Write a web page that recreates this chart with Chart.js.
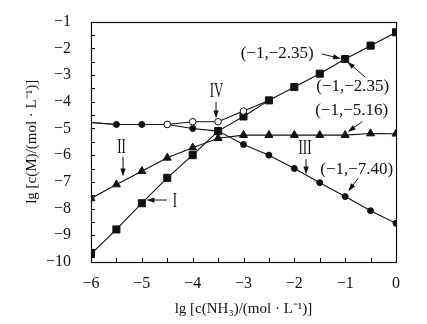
<!DOCTYPE html>
<html>
<head>
<meta charset="utf-8">
<script src="https://cdn.jsdelivr.net/npm/chart.js@4"></script>
<style>
html,body{margin:0;padding:0;background:#fff;}
#wrap{width:427px;height:324px;position:relative;}
</style>
</head>
<body>
<div id="wrap"><canvas id="c" width="427" height="324"></canvas></div>
<script>
// x values: lg c(NH3)
const xValues = [-6, -5.5, -5, -4.5, -4, -3.5, -3, -2.5, -2, -1.5, -1, -0.5, 0];
// Series I (squares)
const seriesI = [-9.7, -8.78, -7.8, -6.85, -6.0, -5.1, -4.55, -3.95, -3.45, -2.95, -2.4, -1.9, -1.4];
// Series II (triangles)
const seriesII = [-7.62, -7.1, -6.6, -6.1, -5.72, -5.37, -5.25, -5.25, -5.25, -5.25, -5.25, -5.19, -5.2];
// Series III (filled circles)
const seriesIII = [-4.78, -4.85, -4.85, -4.85, -5.0, -5.1, -5.6, -6.0, -6.5, -7.03, -7.55, -8.08, -8.55];
// Series IV (open circles; merges with I after -2.5)
const seriesIV = [-4.78, -4.85, -4.85, -4.85, -4.75, -4.75, -4.35, -3.95, null, null, null, null, null];
const ivMarker = [0, 0, 0, 1, 1, 1, 1, 0, 0, 0, 0, 0, 0];
const iiiMarker = [0, 1, 1, 1, 1, 1, 1, 1, 1, 1, 1, 1, 1];

// tick settings
const xTicks = {min: -6, max: 0, step: 1, minor: 0.5};
const yTicks = {min: -10, max: -1, step: 1, minor: 0.5};

// annotations (text, anchor in data units)
const pointLabels = [
  {text: '(−1,−2.35)', x: -1.62, y: -2.21, align: 'right', ax0: -1.46, ay0: -2.21, ax1: -1.08, ay1: -2.39},
  {text: '(−1,−2.35)', x: -1.57, y: -3.44, align: 'left', ax0: -0.61, ay0: -3.07, ax1: -0.96, ay1: -2.5},
  {text: '(−1,−5.16)', x: -1.59, y: -4.33, align: 'left', ax0: -0.66, ay0: -4.74, ax1: -0.95, ay1: -5.13},
  {text: '(−1,−7.40)', x: -1.49, y: -6.52, align: 'left', ax0: -0.74, ay0: -6.86, ax1: -0.94, ay1: -7.35}
];
const curveLabels = [
  {text: 'IV', x: -3.53, y: -3.57, ax0: -3.54, ay0: -4.0, ax1: -3.54, ay1: -4.63},
  {text: 'II', x: -5.40, y: -5.69, ax0: -5.37, ay0: -6.06, ax1: -5.37, ay1: -6.8},
  {text: 'III', x: -1.79, y: -5.72, ax0: -1.77, ay0: -6.15, ax1: -1.77, ay1: -6.72},
  {text: 'I', x: -4.35, y: -7.70, ax0: -4.51, ay0: -7.68, ax1: -4.91, ay1: -7.68}
];

const xTitle = 'lg [c(NH₃)/(mol · L⁻¹)]';
const yTitle = 'lg [c(M)/(mol · L⁻¹)]';

const ink = '#111111';
const serif = "'Liberation Serif', 'Times New Roman', serif";

function pts(arr) { return xValues.map((x, i) => ({x: x, y: arr[i]})); }

function arrow(ctx, x0, y0, x1, y1) {
  const ang = Math.atan2(y1 - y0, x1 - x0);
  const L = 8, W = 2.6;
  ctx.beginPath();
  ctx.moveTo(x0, y0);
  ctx.lineTo(x1 - Math.cos(ang) * (L - 1), y1 - Math.sin(ang) * (L - 1));
  ctx.stroke();
  ctx.beginPath();
  ctx.moveTo(x1, y1);
  ctx.lineTo(x1 - Math.cos(ang) * L - Math.sin(ang) * W, y1 - Math.sin(ang) * L + Math.cos(ang) * W);
  ctx.lineTo(x1 - Math.cos(ang) * L + Math.sin(ang) * W, y1 - Math.sin(ang) * L - Math.cos(ang) * W);
  ctx.closePath();
  ctx.fill();
}

const decor = {
  id: 'decor',
  afterDraw(chart) {
    const ctx = chart.ctx;
    const a = chart.chartArea;
    const xs = chart.scales.x, ys = chart.scales.y;
    ctx.save();
    ctx.strokeStyle = ink;
    ctx.fillStyle = ink;
    ctx.lineWidth = 1.2;
    ctx.strokeRect(Math.round(a.left) + 0.5, Math.round(a.top) + 0.5, Math.round(a.right - a.left), Math.round(a.bottom - a.top));
    // inward ticks
    ctx.lineWidth = 1;
    ctx.beginPath();
    for (let v = xTicks.min; v <= xTicks.max + 1e-9; v += xTicks.minor) {
      const px = Math.round(xs.getPixelForValue(v)) + 0.5;
      ctx.moveTo(px, a.bottom);
      ctx.lineTo(px, a.bottom - 4);
    }
    for (let v = yTicks.min; v <= yTicks.max + 1e-9; v += yTicks.minor) {
      const py = Math.round(ys.getPixelForValue(v)) + 0.5;
      ctx.moveTo(a.left, py);
      ctx.lineTo(a.left + 4, py);
    }
    ctx.stroke();
    // point labels
    ctx.font = '17px ' + serif;
    ctx.textBaseline = 'middle';
    pointLabels.forEach(l => {
      ctx.textAlign = l.align;
      ctx.fillText(l.text, xs.getPixelForValue(l.x), ys.getPixelForValue(l.y));
      arrow(ctx, xs.getPixelForValue(l.ax0), ys.getPixelForValue(l.ay0), xs.getPixelForValue(l.ax1), ys.getPixelForValue(l.ay1));
    });
    // curve labels (condensed roman numerals)
    curveLabels.forEach(l => {
      const px = xs.getPixelForValue(l.x), py = ys.getPixelForValue(l.y);
      ctx.save();
      ctx.translate(px, py);
      ctx.scale(0.62, 1);
      ctx.font = '21px ' + serif;
      ctx.textAlign = 'center';
      ctx.textBaseline = 'middle';
      ctx.fillText(l.text, 0, 1);
      ctx.restore();
      arrow(ctx, xs.getPixelForValue(l.ax0), ys.getPixelForValue(l.ay0), xs.getPixelForValue(l.ax1), ys.getPixelForValue(l.ay1));
    });
    ctx.restore();
  }
};

const common = {borderColor: ink, borderWidth: 1.1, pointBorderColor: ink, pointBackgroundColor: ink, pointBorderWidth: 1, tension: 0, spanGaps: false};

new Chart(document.getElementById('c'), {
  type: 'line',
  data: {
    datasets: [
      Object.assign({}, common, {label: 'IV', data: pts(seriesIV), pointStyle: 'circle', pointBackgroundColor: '#fff',
        pointRadius: ivMarker.map(m => m ? 3.3 : 0)}),
      Object.assign({}, common, {label: 'I', data: pts(seriesI), pointStyle: 'rect', pointRadius: 5}),
      Object.assign({}, common, {label: 'II', data: pts(seriesII), pointStyle: 'triangle', pointRadius: 4.6}),
      Object.assign({}, common, {label: 'III', data: pts(seriesIII), pointStyle: 'circle', pointRadius: iiiMarker.map(m => m ? 3 : 0)})
    ]
  },
  options: {
    responsive: false,
    animation: false,
    devicePixelRatio: 1,
    layout: {padding: {top: 19, right: 31, left: 0, bottom: 0}},
    plugins: {legend: {display: false}, tooltip: {enabled: false}},
    elements: {point: {hitRadius: 0}},
    scales: {
      x: {
        type: 'linear', min: xTicks.min, max: xTicks.max,
        grid: {display: false}, border: {display: false},
        ticks: {stepSize: xTicks.step, color: ink, padding: 4, font: {family: serif, size: 16},
          callback: v => String(v).replace('-', '−')},
        title: {display: true, text: xTitle, color: ink, font: {family: serif, size: 15}, padding: {top: 0, bottom: 6}},
        afterFit: s => { s.height = 62; }
      },
      y: {
        type: 'linear', min: yTicks.min, max: yTicks.max,
        grid: {display: false}, border: {display: false},
        ticks: {stepSize: yTicks.step, color: ink, padding: 12, font: {family: serif, size: 16},
          callback: v => String(v).replace('-', '−')},
        title: {display: true, text: yTitle, color: ink, font: {family: serif, size: 15}, padding: {top: 23, bottom: 0}},
        afterFit: s => { s.width = 91; }
      }
    }
  },
  plugins: [decor]
});
</script>
</body>
</html>
